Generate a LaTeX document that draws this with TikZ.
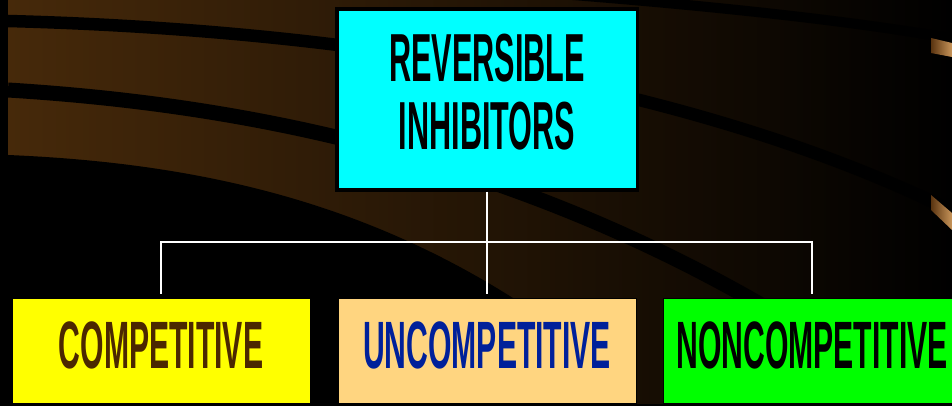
\documentclass[tikz,border=0pt]{standalone}
\usepackage{tikz}
\usepackage{fontspec}
\usepackage{color}
\newfontfamily\slidefont[FakeStretch=0.45]{Liberation Sans}
\definecolor{bgbrown}{HTML}{46290A}
\definecolor{tandark}{HTML}{5A3410}
\definecolor{tanlight}{HTML}{C8955A}
\definecolor{topcyan}{HTML}{00FFFF}
\definecolor{compyellow}{HTML}{FFFF00}
\definecolor{noncompgreen}{HTML}{00FF00}
\definecolor{peach}{HTML}{FFD580}
\definecolor{compbrown}{HTML}{4B2800}
\definecolor{uncompblue}{HTML}{00209A}

\begin{document}
\begin{tikzpicture}
  [x=1pt,y=-1pt]
      \tikzstyle{stripe_style} = [draw=black, line cap=butt]
      \tikzstyle{box_style} = [draw=black, line width=1, outer sep=4.5pt, minimum width=298, minimum height=105, inner sep=0, font=\slidefont\bfseries\fontsize{67}{67}\selectfont, text height=48pt, text depth=13pt]
      \tikzstyle{link_style} = [draw=white, line width=2.8]
  \useasboundingbox (0,0) rectangle (952,406);
  \clip (0,0) rectangle (952,406);
  \fill[black] (0,0) rectangle (952,406);
  \shade[left color=bgbrown, right color=black] (8,0) rectangle (952,403);
  \draw[stripe_style, line width=10] (560,-6) .. controls (700,5) and (850,20) .. (960,40);
  \draw[stripe_style, line width=12.5] (8,21) .. controls (350,30) and (700,85) .. (960,215);
  \draw[stripe_style, line width=15] (8,90) .. controls (250,105) and (550,160) .. (850,360);
  \fill[black] (8,155) .. controls (250,165) and (430,225) .. (600,360) -- (600,406) -- (8,406) -- cycle;
  \shade[left color=tandark, right color=tanlight] (931,38) -- (952,43) -- (952,57) -- (931,53) -- cycle;
  \shade[left color=tandark, right color=tanlight] (931,195) -- (952,213) -- (952,230) -- (931,210) -- cycle;
  \node[fill=topcyan, draw=black, line width=3.5, minimum width=300.5, minimum height=180.5, inner sep=0, align=center, font=\slidefont\bfseries\fontsize{68}{68}\selectfont] (rev) at (487,99.5) {REVERSIBLE\\INHIBITORS\rule[-15pt]{0pt}{0pt}};
  \node[box_style, fill=compyellow, text=compbrown] (comp) at (161,350.5) {COMPETITIVE};
  \node[box_style, fill=peach, text=uncompblue] (uncomp) at (487,350.5) {UNCOMPETITIVE};
  \node[box_style, fill=noncompgreen, text=black] (noncomp) at (812,350.5) {NONCOMPETITIVE};
  \coordinate (split) at (487,242);
  \draw[link_style] (rev.south) -- (uncomp.north);
  \draw[link_style] (comp.north) |- (split) -| (noncomp.north);
\end{tikzpicture}
\end{document}
